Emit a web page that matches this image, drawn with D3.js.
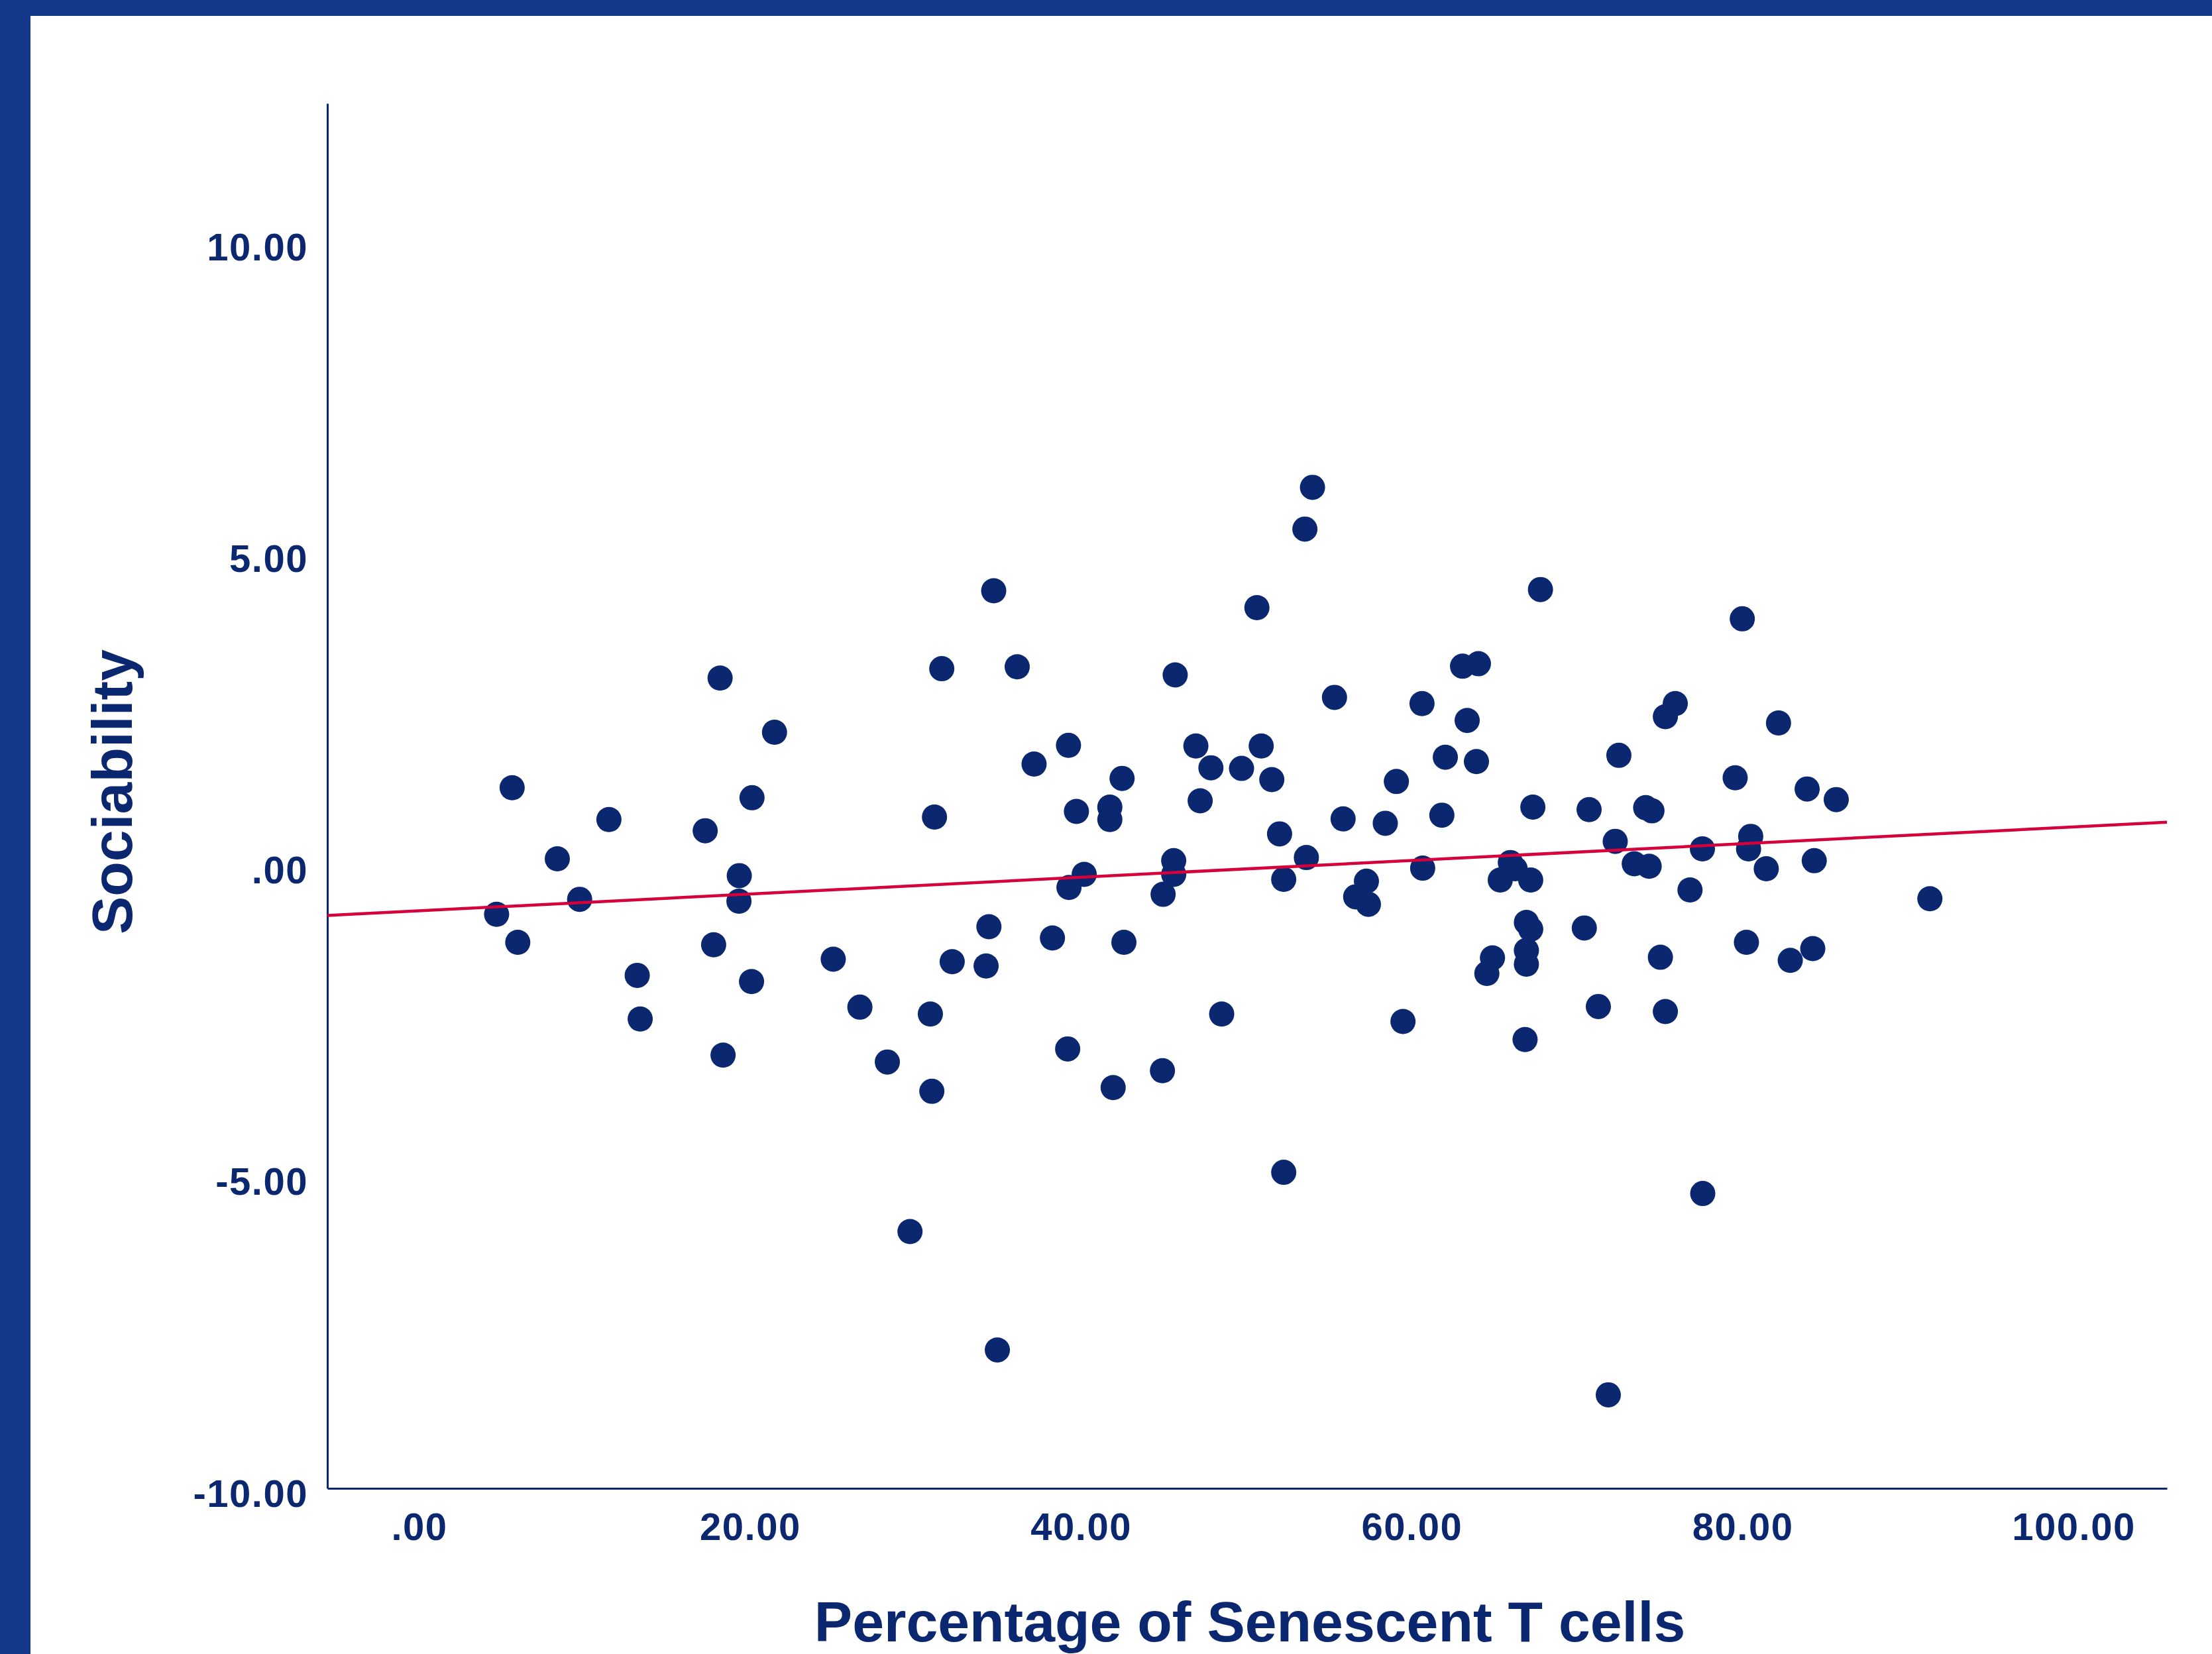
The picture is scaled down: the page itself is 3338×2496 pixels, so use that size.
<!DOCTYPE html>
<html lang="en">
<head>
	<meta charset="utf-8">
	<title>Sociability vs Senescent T cells</title>
	<script src="https://d3js.org/d3.v7.min.js"></script>
	<style type="text/css">
		html, body { margin: 0; padding: 0; background: #ffffff; }
		svg { display: block; }
		.tickLabel, .axisTitle {
			font-family: "Liberation Sans", Arial, Helvetica, sans-serif;
			font-weight: bold;
			fill: #0b2770;
		}
		.tickLabel { letter-spacing: 1.5px; }
	</style>
</head>
<body>
	<svg id="chart" width="3338" height="2496"></svg>

	<script type="text/javascript">

	// colours
	var navy = "#0b2770"
	var frameBlue = "#15398a"
	var fitRed = "#d6003b"

	// data: % senescent T cells (x), sociability (y)
	var senescentPct = [
		4.68, 5.62, 5.96, 8.35, 9.70, 11.47, 13.18, 13.36, 17.29, 17.80,
		18.19, 18.37, 19.35, 19.33, 20.12, 20.09, 21.48, 25.03, 26.64, 28.30,
		29.67, 30.90, 30.99, 31.15, 31.59, 32.22, 34.27, 34.44, 34.73, 34.95,
		36.15, 37.17, 38.28, 39.20, 39.25, 39.28, 39.73, 40.20, 41.75, 41.75,
		41.95, 42.49, 42.60, 44.93, 44.97, 45.61, 45.61, 45.70, 46.95, 47.21,
		47.86, 48.51, 49.71, 50.64, 50.90, 51.54, 52.01, 52.26, 52.26, 53.54,
		53.63, 54.00, 55.33, 55.85, 56.61, 57.26, 57.38, 58.40, 59.07, 59.47,
		60.62, 60.66, 61.82, 62.03, 63.07, 63.35, 63.91, 64.03, 64.54, 64.88,
		65.35, 65.96, 66.25, 66.85, 66.93, 66.93, 66.93, 67.19, 67.19, 67.32,
		67.78, 70.43, 70.72, 71.28, 71.88, 72.30, 72.52, 73.45, 74.14, 74.35,
		74.52, 75.03, 75.33, 75.33, 75.93, 76.82, 77.57, 77.59, 79.55, 79.98,
		80.23, 80.36, 80.49, 81.43, 82.17, 82.88, 83.90, 84.24, 84.33, 85.66,
		91.32
	]
	var sociability = [
		-0.79, 1.24, -1.24, 0.10, -0.55, 0.73, -1.77, -2.47, 0.55, -1.28,
		3.00, -3.05, -0.17, -0.58, 1.08, -1.87, 2.13, -1.51, -2.28, -3.16,
		-5.88, -2.39, -3.63, 0.77, 3.15, -1.55, -1.62, -0.99, 4.40, -7.78,
		3.18, 1.62, -1.17, -2.95, 1.92, -0.36, 0.86, -0.15, 0.93, 0.73,
		-3.57, 1.39, -1.24, -3.30, -0.47, 0.07, -0.15, 3.05, 1.91, 1.03,
		1.56, -2.39, 1.55, 4.13, 1.91, 1.37, 0.50, -0.23, -4.93, 5.39,
		0.12, 6.06, 2.69, 0.74, -0.51, -0.26, -0.63, 0.67, 1.34, -2.51,
		2.59, -0.05, 0.80, 1.73, 3.19, 2.32, 1.66, 3.23, -1.74, -1.49,
		-0.24, 0.04, -0.06, -2.80, -0.92, -1.37, -1.59, -1.03, -0.24, 0.93,
		4.42, -1.01, 0.89, -2.27, -8.50, 0.38, 1.76, 0.02, 0.92, -0.02,
		0.87, -1.48, 2.38, -2.35, 2.59, -0.40, 0.26, -5.27, 1.40, 3.95,
		-1.24, 0.26, 0.46, -0.06, 2.28, -1.53, 1.22, -1.34, 0.07, 1.05,
		-0.54
	]

	// fit line (linear)
	var fitIntercept = -0.734
	var fitSlope = 0.013455

	// ticks
	var xTicks = [0, 20, 40, 60, 80, 100]
	var yTicks = [-10, -5, 0, 5, 10]
	var xDomain = [-5.55, 105.65]
	var yDomain = [-10, 12.22]

	var xTitle = "Percentage of Senescent T cells"
	var yTitle = "Sociability"

	// layout
	var W = 3338, H = 2496
	var plot = {left: 494, right: 3270, top: 156, bottom: 2246}

	var data = senescentPct.map((d, i) => ({x: d, y: sociability[i]}))

	var svg = d3.select("#chart")

	// frame bands top + left
	svg.append("rect").attr("x", 0).attr("y", 0).attr("width", W).attr("height", 24).attr("fill", frameBlue)
	svg.append("rect").attr("x", 0).attr("y", 0).attr("width", 46).attr("height", H).attr("fill", frameBlue)

	var x = d3.scaleLinear().domain(xDomain).range([plot.left, plot.right])
	var y = d3.scaleLinear().domain(yDomain).range([plot.bottom, plot.top])

	function fmt(v) {
		return v.toFixed(2).replace(/^(-?)0\./, "$1.")
	}

	// y axis
	var yAxis = svg.append("g")
		.attr("transform", "translate(" + plot.left + ",0)")
		.call(d3.axisLeft(y).tickValues(yTicks).tickFormat(fmt).tickSizeInner(0).tickSizeOuter(0).tickPadding(29))
	yAxis.select(".domain").attr("stroke", navy).attr("stroke-width", 3)
	yAxis.selectAll("text")
		.attr("class", "tickLabel")
		.attr("font-size", 58)
		.attr("dy", "0.47em")

	// x axis
	var xAxis = svg.append("g")
		.attr("transform", "translate(0," + plot.bottom + ")")
		.call(d3.axisBottom(x).tickValues(xTicks).tickFormat(fmt).tickSizeInner(0).tickSizeOuter(0))
	xAxis.select(".domain").attr("stroke", navy).attr("stroke-width", 3)
	xAxis.selectAll("text")
		.attr("class", "tickLabel")
		.attr("font-size", 58)
		.attr("y", 78)
		.attr("dy", 0)

	svg.selectAll(".tick line").remove()
	svg.selectAll("g").attr("font-family", null).attr("font-size", null)

	// points
	svg.append("g")
		.selectAll("circle")
		.data(data)
		.join("circle")
		.attr("cx", d => x(d.x))
		.attr("cy", d => y(d.y))
		.attr("r", 19)
		.attr("fill", navy)

	// fit line across the plot
	var line = d3.line().x(d => x(d)).y(d => y(fitIntercept + fitSlope * d))
	svg.append("path")
		.attr("d", line(xDomain))
		.attr("fill", "none")
		.attr("stroke", fitRed)
		.attr("stroke-width", 4.5)

	// titles
	svg.append("text")
		.attr("class", "axisTitle")
		.attr("x", 1886)
		.attr("y", 2477)
		.attr("text-anchor", "middle")
		.attr("font-size", 86)
		.text(xTitle)

	svg.append("text")
		.attr("class", "axisTitle")
		.attr("transform", "translate(199,1195) rotate(-90)")
		.attr("text-anchor", "middle")
		.attr("font-size", 86)
		.text(yTitle)

	</script>
</body>
</html>
